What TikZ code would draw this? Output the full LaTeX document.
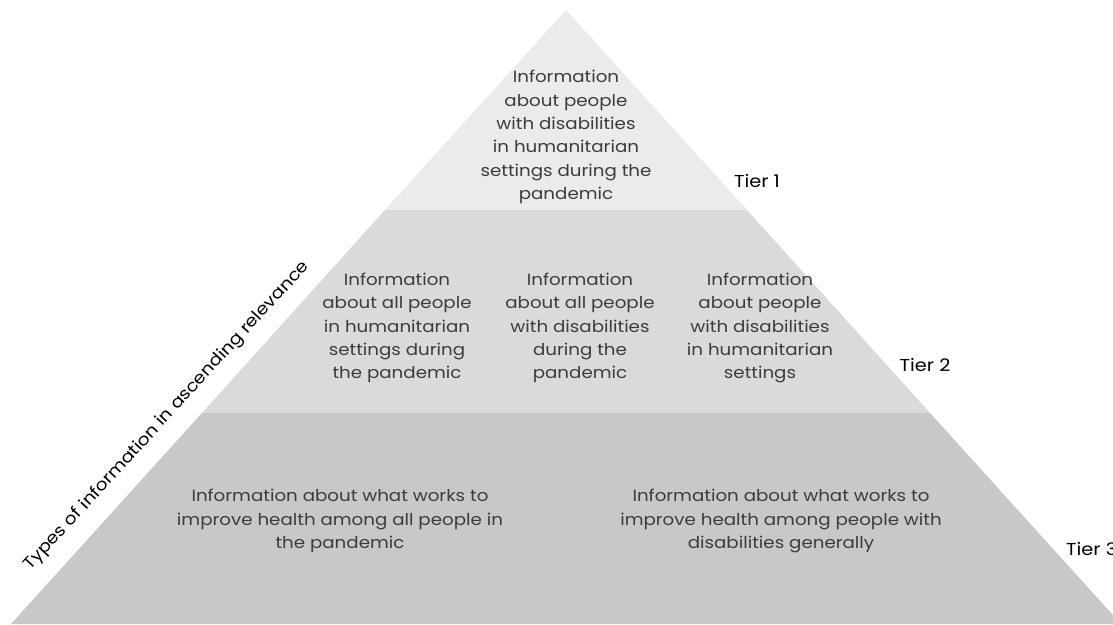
\documentclass[tikz,border=0pt]{standalone}
\usepackage{fontspec}
\setmainfont{Poppins}[FakeStretch=1.12]
\usetikzlibrary{positioning}
\definecolor{tierone}{HTML}{EBEBEB}
\definecolor{tiertwo}{HTML}{DADADA}
\definecolor{tierthree}{HTML}{C8C8C8}
\definecolor{bodytext}{HTML}{3C3C3C}
\tikzset{
  info/.style={align=center, text=bodytext, font=\fontsize{16.3}{23.3}\selectfont, inner sep=0pt},
  tierlabel/.style={text=black, font=\fontsize{17.3}{20}\selectfont, inner sep=0pt},
  axislabel/.style={text=black, font=\fontsize{16.6}{20}\selectfont, inner sep=0pt},
}
\begin{document}
\begin{tikzpicture}[x=1pt, y=-1pt]
  \useasboundingbox (0,0) rectangle (1113,624);
  \clip (0,0) rectangle (1113,624);
  \fill[white] (0,0) rectangle (1113,624);
  \fill[tierone] (566,10) -- (747,210) -- (385,210) -- cycle;
  \fill[tiertwo] (385,210) -- (747,210) -- (930,413) -- (202,413) -- cycle;
  \fill[tierthree] (202,413) -- (930,413) -- (1121,624) -- (11,624) -- cycle;
  \node[info] (top) at (566,137) {Information\\about people\\with disabilities\\in humanitarian\\settings during the\\pandemic};
  \node[info] (midleft) at (397,328) {Information\\about all people\\in humanitarian\\settings during\\the pandemic};
  \node[info] (midcentre) at (580,328) {Information\\about all people\\with disabilities\\during the\\pandemic};
  \node[info] (midright) at (760,328) {Information\\about people\\with disabilities\\in humanitarian\\settings};
  \node[info] (baseleft) at (340,521) {Information about what works to\\improve health among all people in\\the pandemic};
  \node[info] (baseright) at (781,521) {Information about what works to\\improve health among people with\\disabilities generally};
  \node[tierlabel] (tierA) at (757,181) {Tier 1};
  \node[tierlabel] (tierB) at (925,365) {Tier 2};
  \node[tierlabel, anchor=west] (tierC) at (1066,549) {Tier 3};
  \node[axislabel, rotate=47.5] (axis) at (167,416) {Types of information in ascending relevance};
\end{tikzpicture}
\end{document}
